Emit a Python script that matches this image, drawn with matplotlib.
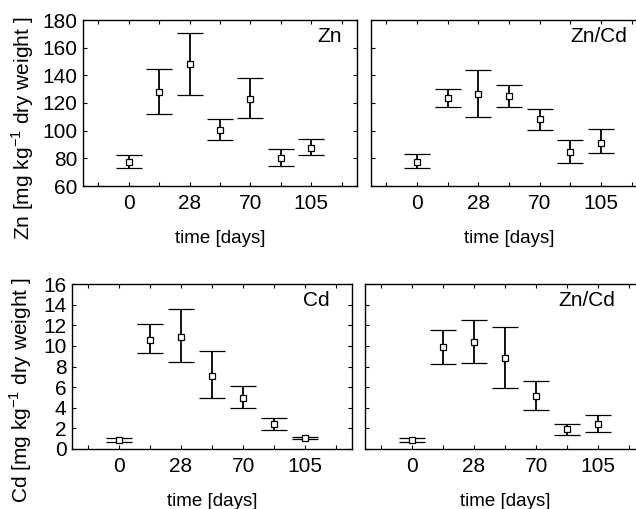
import numpy as np
import matplotlib
matplotlib.use('Agg')
import matplotlib.pyplot as plt

plt.rcParams['font.family'] = ['Liberation Sans', 'DejaVu Sans']
plt.rcParams['mathtext.fontset'] = 'custom'
plt.rcParams['mathtext.rm'] = 'Liberation Sans'

# sampling times (evenly spaced categories on the x axis)
days = ['0', '14', '28', '42', '70', '84', '105']
tick_days = ['0', '28', '70', '105']

# Zn, Zn-only exposure
zn_zn = [77.6, 128.1, 148.1, 100.6, 122.8, 80.1, 87.5]
zn_zn_lo = [73.1, 111.9, 125.9, 93.6, 108.8, 74.3, 82.7]
zn_zn_hi = [82.7, 144.5, 170.3, 108.3, 138.2, 86.8, 93.8]

# Zn, Zn/Cd exposure
zn_zncd = [77.6, 123.5, 126.4, 125.0, 108.3, 84.6, 91.4]
zn_zncd_lo = [72.8, 117.2, 109.8, 117.2, 100.8, 76.7, 83.9]
zn_zncd_hi = [83.0, 130.0, 143.5, 133.2, 116.0, 92.9, 101.5]

# Cd, Cd-only exposure
cd_cd = [0.91, 10.6, 10.88, 7.09, 4.96, 2.43, 1.07]
cd_cd_lo = [0.71, 9.30, 8.39, 4.96, 3.95, 1.81, 0.94]
cd_cd_hi = [1.07, 12.08, 13.54, 9.46, 6.12, 3.01, 1.20]

# Cd, Zn/Cd exposure
cd_zncd = [0.84, 9.85, 10.37, 8.81, 5.15, 1.91, 2.43]
cd_zncd_lo = [0.68, 8.23, 8.32, 5.93, 3.76, 1.39, 1.62]
cd_zncd_hi = [1.04, 11.5, 12.5, 11.85, 6.61, 2.46, 3.30]

W, H = 636, 509
fig = plt.figure(figsize=(W / 100, H / 100), dpi=100)


def px_axes(x0, y0, x1, y1):
    return fig.add_axes([x0 / W, 1 - y1 / H, (x1 - x0) / W, (y1 - y0) / H])


def panel(ax, mean, lo, hi, label, label_x, ylim, yticks, show_ylabels):
    x = np.arange(len(days))
    mean = np.array(mean)
    err = [mean - np.array(lo), np.array(hi) - mean]
    ax.errorbar(x, mean, yerr=err, fmt='s', ms=4.5, mfc='white', mec='black',
                mew=0.9, ecolor='black', elinewidth=1.3, capsize=9.5,
                capthick=1.3, color='black')
    ax.set_xlim(-1.5, 7.5)
    ax.set_ylim(*ylim)
    ax.set_xticks([0, 2, 4, 6])
    ax.set_xticklabels(tick_days)
    ax.set_xticks(np.arange(-1, 8), minor=True)
    ax.set_yticks(yticks)
    if not show_ylabels:
        ax.set_yticklabels([])
    ax.tick_params(which='both', direction='in', top=True, right=True,
                   labelsize=15, length=3, width=0.8, pad=6)
    ax.tick_params(axis='y', pad=4)
    ax.set_xlabel('time [days]', fontsize=13.5, labelpad=12)
    for s in ax.spines.values():
        s.set_linewidth(1.0)
    ax.text(label_x, 0.9, label, transform=ax.transAxes,
            ha='right', va='center', fontsize=15)


zn_ticks = np.arange(60, 181, 20)
cd_ticks = np.arange(0, 17, 2)

ax1 = px_axes(83, 20, 357, 186)
panel(ax1, zn_zn, zn_zn_lo, zn_zn_hi, 'Zn', 0.945, (60, 180), zn_ticks, True)
ax2 = px_axes(371, 20, 647, 186)
panel(ax2, zn_zncd, zn_zncd_lo, zn_zncd_hi, 'Zn/Cd', 0.93, (60, 180), zn_ticks, False)
ax3 = px_axes(72, 284, 352, 449)
panel(ax3, cd_cd, cd_cd_lo, cd_cd_hi, 'Cd', 0.92, (0, 16), cd_ticks, True)
ax4 = px_axes(365, 284, 645, 449)
panel(ax4, cd_zncd, cd_zncd_lo, cd_zncd_hi, 'Zn/Cd', 0.893, (0, 16), cd_ticks, False)

fig.text(23 / W, 1 - 128 / H, 'Zn [mg kg$^{\\mathregular{-1}}$ dry weight ]', rotation=90,
         ha='center', va='center', fontsize=15)
fig.text(21 / W, 1 - 390 / H, 'Cd [mg kg$^{\\mathregular{-1}}$ dry weight ]', rotation=90,
         ha='center', va='center', fontsize=15)

fig.savefig('out.png', dpi=100)
